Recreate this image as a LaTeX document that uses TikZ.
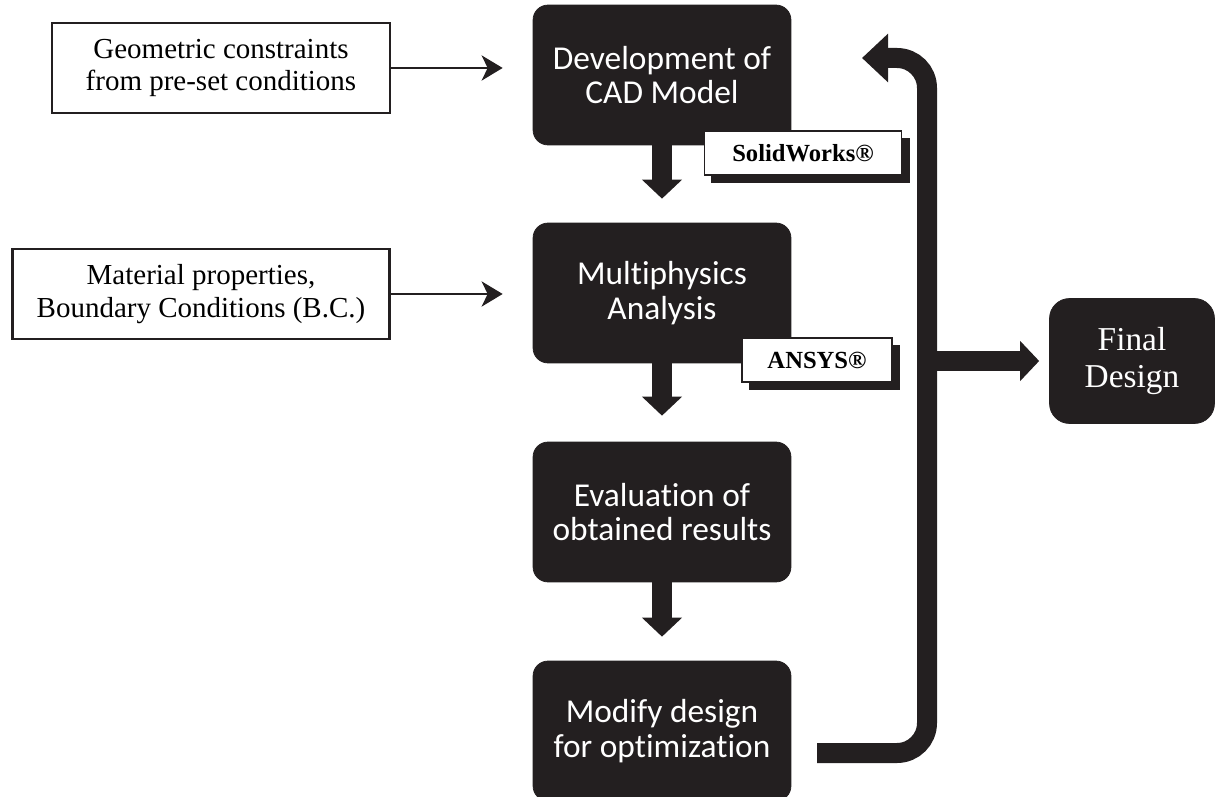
\documentclass[tikz,border=0pt]{standalone}
\usepackage{fontspec}
\setmainfont{Liberation Serif}
\newfontfamily\stagefont[Ligatures=NoCommon]{Carlito}
\usetikzlibrary{arrows.meta,shadows}

\definecolor{boxblack}{HTML}{231F20}

\tikzset{
  stage/.style={draw=boxblack, fill=boxblack, rounded corners=0.3cm, minimum width=5.16cm, minimum height=2.8cm,
    text=white, align=center, font=\stagefont\fontsize{19}{19.5}\selectfont},
  inputbox/.style={draw=boxblack, line width=1.2pt, minimum height=1.8cm, align=center,
    font=\fontsize{16.5}{18.7}\selectfont},
  toolbox/.style={draw=boxblack, line width=0.9pt, fill=white, minimum height=0.87cm,
    font=\bfseries\fontsize{14}{16}\selectfont,
    copy shadow={shadow xshift=0.15cm, shadow yshift=-0.15cm, fill=boxblack, draw=boxblack}},
  thinarrow/.style={draw=boxblack, line width=1.7pt, -{Stealth[length=0.42cm, width=0.5cm, inset=0.12cm]}, shorten >=0.6cm},
  fatarrow/.style={draw=boxblack, line width=0.4cm, -{Triangle[length=0.38cm, width=0.78cm]}},
}

\begin{document}
\begin{tikzpicture}[x=0.02cm, y=-0.02cm]
  \useasboundingbox (0,0) rectangle (1218,797);

  % main chain
  \node[stage, name=dev] at (662,75) {Development of\\CAD Model};
  \node[stage, name=multi] at (662,293) {Multiphysics\\Analysis};
  \node[stage, name=eval] at (662,512) {Evaluation of\\obtained results};
  \node[stage, name=modify] at (662,731) {Modify design\\for optimization};
  \node[stage, name=final, minimum width=3.3cm, minimum height=2.5cm, rounded corners=0.4cm,
    font=\fontsize{19}{21}\selectfont] at (1132,361) {Final\\Design};

  % inputs
  \node[inputbox, name=geo, minimum width=6.76cm] at (221,68) {Geometric constraints\\from pre-set conditions};
  \node[inputbox, name=mat, minimum width=7.54cm] at (201,294) {Material properties,\\Boundary Conditions (B.C.)};

  \draw[thinarrow] (geo.east) -- (geo.east -| dev.west);
  \draw[thinarrow] (mat.east) -- (mat.east -| multi.west);

  \draw[fatarrow, shorten >=0.48cm] (dev) -- (multi);
  \draw[fatarrow, shorten >=0.52cm] (multi) -- (eval);
  \draw[fatarrow, shorten >=0.48cm] (eval) -- (modify);

  % feedback loop
  \coordinate (loopstart) at (817,753);
  \coordinate (loopup) at (927,58);
  \coordinate (looptip) at (862,58);
  \coordinate (branch) at (927,361);
  \draw[fatarrow, -{Triangle[length=0.52cm, width=0.94cm]}, rounded corners=0.6cm]
    (loopstart) -- (loopstart -| loopup) -- (loopup) -- (looptip);
  \draw[fatarrow, shorten >=0.2cm] (branch) -- (final.west);

  % software labels
  \node[toolbox, name=sw, minimum width=3.94cm] at (803,153) {SolidWorks®};
  \node[toolbox, name=ansys, minimum width=3.0cm] at (817,360) {ANSYS®};
\end{tikzpicture}
\end{document}
